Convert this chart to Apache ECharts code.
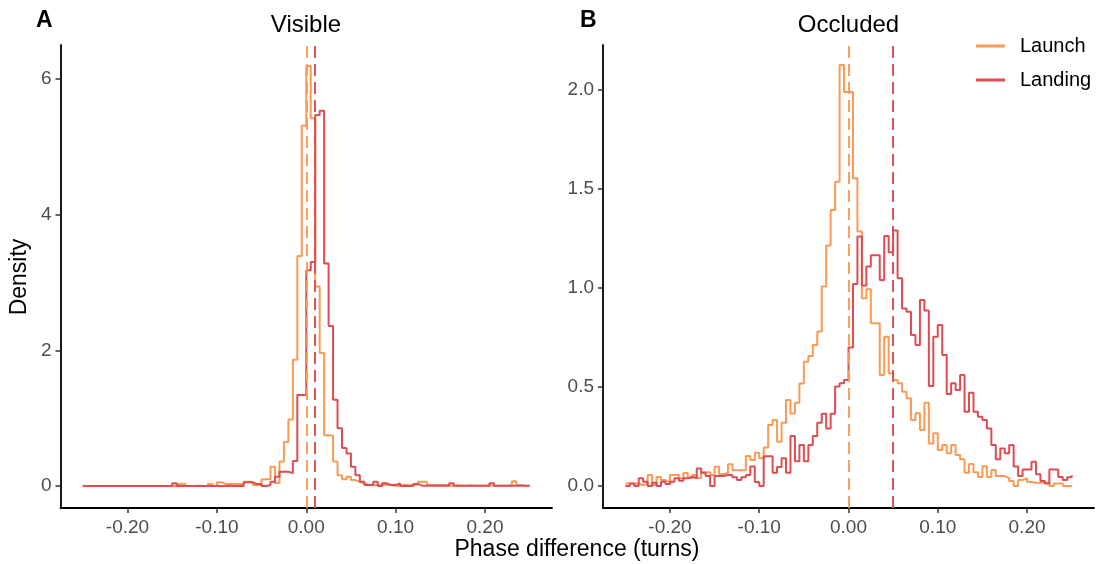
<!DOCTYPE html>
<html><head><meta charset="utf-8">
<script src="https://cdn.jsdelivr.net/npm/echarts@6/dist/echarts.min.js"></script>
<style>html,body{margin:0;padding:0;background:#fff}#c{width:1096px;height:564px}</style>
</head><body><div id="c"></div>
<script>
// Step histograms: bin k covers [binStart + k*binWidth, binStart + (k+1)*binWidth]
const binStart = -0.25;
const binWidth = 0.005;

const visibleLaunch = [
  0,0,0,0,0,0,0,0,0,0,
  0,0,0,0,0,0,0,0,0,0,
  0,0.03,0.03,0,0,0,0,0,0.03,0,
  0.054,0.03,0.03,0.03,0.03,0.03,0.064,0.064,0.015,0.015,
  0.1,0.1,0.285,0.045,0.36,0.65,0.98,1.86,3.39,5.31,
  6.19,5.42,2.94,1.96,0.75,0.74,0.36,0.16,0.1,0.137,
  0.088,0.06,0.04,0.02,0.01,0.015,0.015,0.02,0.015,0.005,
  0.005,0.02,0.01,0.02,0.02,0.064,0.064,0.015,0.015,0.015,
  0.015,0.005,0.005,0.01,0.005,0.005,0.01,0.005,0.005,0.005,
  0.01,0.005,0.005,0.005,0.005,0.01,0.07,0.015,0.005,0.005,
  0.005
];
const visibleLanding = [
  0,0,0,0,0,0,0,0,0,0,
  0,0,0,0,0,0,0,0,0,0,
  0.04,0,0,0,0,0.005,0,0,0,0.005,
  0,0,0.005,0,0,0,0.054,0.054,0.03,0.03,
  0,0.015,0.064,0.137,0.21,0.21,0.19,0.37,1.34,1.34,
  3.18,3.3,5.47,5.53,3.28,2.36,1.27,0.85,0.56,0.48,
  0.285,0.16,0.064,0.015,0.015,0.064,0,0.039,0.015,0.015,
  0.039,0,0,0,0.03,0.005,0.005,0.005,0.005,0.005,
  0.005,0.005,0.039,0.005,0.005,0.005,0.005,0.005,0.005,0.005,
  0.005,0.039,0.005,0.005,0.005,0.005,0.005,0.005,0.005,0.005,
  0.005
];
const occludedLaunch = [
  0.013,0.013,0.013,0.005,0.01,0.056,0.005,0.046,0.03,0.02,
  0.056,0.056,0.04,0.066,0.04,0.056,0.04,0.07,0.07,0.056,
  0.097,0.06,0.066,0.11,0.08,0.08,0.08,0.152,0.131,0.168,
  0.14,0.195,0.308,0.333,0.224,0.32,0.434,0.366,0.42,0.518,
  0.628,0.657,0.712,0.78,1.007,1.214,1.394,1.537,2.126,1.99,
  1.99,1.554,1.285,0.948,0.993,0.822,0.822,0.561,0.754,0.569,
  0.535,0.519,0.476,0.443,0.333,0.367,0.283,0.421,0.215,0.266,
  0.182,0.207,0.165,0.207,0.157,0.135,0.067,0.111,0.07,0.045,
  0.1,0.045,0.081,0.05,0.05,0.04,0.025,0,0.03,0.04,
  0.02,0.017,0.017,0.017,0.017,0,0.013,0.013,0,0,
  0
];
const occludedLanding = [
  0,0.013,0,0.039,0.022,0,0.017,0,0.022,0.01,
  0.022,0.039,0.027,0.039,0.047,0.039,0.089,0.067,0.051,0,
  0.051,0.051,0.056,0.056,0.044,0.03,0.044,0.056,0.098,0.02,
  0,0.15,0.15,0.067,0.096,0.14,0.067,0.253,0.125,0.207,
  0.125,0.207,0.253,0.32,0.365,0.291,0.365,0.503,0.519,0.535,
  0.70,1.02,1.26,1.013,1.108,1.165,1.165,1.04,1.263,1.18,
  1.29,1.049,0.897,0.88,0.763,0.712,0.939,0.886,0.505,0.754,
  0.813,0.662,0.465,0.519,0.485,0.561,0.375,0.471,0.375,0.35,
  0.333,0.291,0.207,0.135,0.19,0.165,0.207,0.098,0.05,0.084,
  0.084,0.123,0.06,0.025,0.013,0.084,0.084,0.045,0.03,0.044,
  0.055
];
// dashed reference lines: [Launch, Landing]
const visibleMedians = [-0.001, 0.0105];
const occludedMedians = [-0.003, 0.046];

const xTicks = [-0.2, -0.1, 0, 0.1, 0.2];
const yTicksVisible = [0, 2, 4, 6];
const yTicksOccluded = [0, 0.5, 1.0, 1.5, 2.0];
const panelTitles = ['Visible', 'Occluded'];
const panelTags = ['A', 'B'];
const seriesNames = ['Launch', 'Landing'];

const COLORS = ['#FB9A55', '#DD4D51'];
const FONT = "'Liberation Sans', Arial, Helvetica, sans-serif";

function steps(vals) {
  return vals.map((v, i) => [+(binStart + binWidth * i).toFixed(4), v]);
}

function xAxisCfg(gi) {
  return {
    type: 'value', gridIndex: gi, min: -0.275, max: 0.275,
    axisLine: {show: true, onZero: false, lineStyle: {color: '#000', width: 1.8}},
    axisTick: {show: true, length: 5, lineStyle: {color: '#333', width: 1.5}, customValues: xTicks},
    axisLabel: {customValues: xTicks, formatter: v => v.toFixed(2), color: '#4D4D4D',
      fontSize: 19, fontFamily: FONT, margin: 10, hideOverlap: false},
    splitLine: {show: false}
  };
}
function yAxisCfg(gi, min, max, ticks, dec) {
  return {
    type: 'value', gridIndex: gi, min: min, max: max,
    axisLine: {show: true, onZero: false, lineStyle: {color: '#000', width: 1.8}},
    axisTick: {show: true, length: 5, lineStyle: {color: '#333', width: 1.5}, customValues: ticks},
    axisLabel: {customValues: ticks, formatter: v => v.toFixed(dec), color: '#4D4D4D',
      fontSize: 19, fontFamily: FONT, margin: 9, hideOverlap: false},
    splitLine: {show: false}
  };
}
function hist(name, gi, vals, color, median, z) {
  return {
    type: 'line', name: name, xAxisIndex: gi, yAxisIndex: gi,
    data: steps(vals), step: 'end', symbol: 'none', showSymbol: false,
    color: color, lineStyle: {color: color, width: 2},
    z: z, silent: true,
    markLine: {
      silent: true, symbol: ['none', 'none'], label: {show: false},
      lineStyle: {color: color, type: [12, 6], width: 2, opacity: 0.95},
      data: [{xAxis: median}], animation: false
    }
  };
}

const chart = echarts.init(document.getElementById('c'), null, {renderer: 'canvas'});
chart.setOption({
  animation: false,
  backgroundColor: '#fff',
  grid: [
    {left: 60.5, width: 491.5, top: 45, height: 463},
    {left: 603, width: 491, top: 45, height: 463}
  ],
  xAxis: [xAxisCfg(0), xAxisCfg(1)],
  yAxis: [
    yAxisCfg(0, -0.324, 6.5, yTicksVisible, 0),
    yAxisCfg(1, -0.111, 2.227, yTicksOccluded, 1)
  ],
  legend: {
    data: seriesNames, orient: 'vertical', left: 971, top: 31,
    itemWidth: 29, itemHeight: 3, icon: 'rect', itemGap: 14,
    textStyle: {fontSize: 20, color: '#000', fontFamily: FONT, padding: [0, 0, 0, 10]}
  },
  series: [
    hist(seriesNames[0], 0, visibleLaunch, COLORS[0], visibleMedians[0], 2),
    hist(seriesNames[1], 0, visibleLanding, COLORS[1], visibleMedians[1], 3),
    hist(seriesNames[0], 1, occludedLaunch, COLORS[0], occludedMedians[0], 2),
    hist(seriesNames[1], 1, occludedLanding, COLORS[1], occludedMedians[1], 3)
  ],
  graphic: [
    {type: 'text', x: 36, y: 21, style: {text: panelTags[0], font: 'bold 23px ' + FONT, fill: '#000', verticalAlign: 'middle'}},
    {type: 'text', x: 580, y: 21, style: {text: panelTags[1], font: 'bold 23px ' + FONT, fill: '#000', verticalAlign: 'middle'}},
    {type: 'text', x: 306, y: 25, style: {text: panelTitles[0], font: '24px ' + FONT, fill: '#000', align: 'center', verticalAlign: 'middle'}},
    {type: 'text', x: 848.5, y: 25, style: {text: panelTitles[1], font: '24px ' + FONT, fill: '#000', align: 'center', verticalAlign: 'middle'}},
    {type: 'text', x: 20, y: 277, rotation: Math.PI / 2, style: {text: 'Density', font: '23px ' + FONT, fill: '#000', align: 'center', verticalAlign: 'middle'}},
    {type: 'text', x: 577, y: 550, style: {text: 'Phase difference (turns)', font: '23px ' + FONT, fill: '#000', align: 'center', verticalAlign: 'middle'}}
  ]
});
</script></body></html>
